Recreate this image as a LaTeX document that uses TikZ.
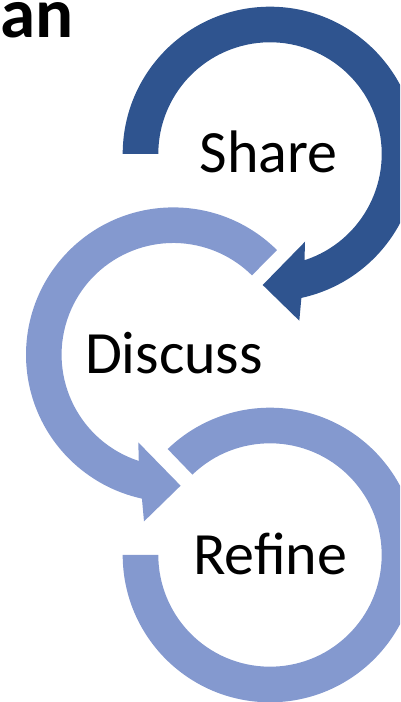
\documentclass[tikz,border=0pt]{standalone}
\usepackage{fontspec}
\setmainfont{Carlito}
\definecolor{darkarrow}{RGB}{47,84,143}
\definecolor{lightarrow}{RGB}{132,153,207}
\begin{document}
\begin{tikzpicture}[x=1pt,y=1pt,
  lbl/.style={inner sep=0pt, anchor=base, font=\fontsize{60}{72}\selectfont},
  titletext/.style={inner sep=0pt, anchor=base east, font=\fontsize{71}{80}\selectfont\bfseries}]
\useasboundingbox (0,0) rectangle (400,702);
\clip (0,0) rectangle (400,702);
\def\ro{147.3}
\def\ri{111.7}
% Share arrow (dark)
\begin{scope}[shift={(270,548)}]
\fill[darkarrow] (180:\ro) arc[start angle=180,end angle=-77.7,radius=\ro]
  -- (29.3,-166.7) -- (-7.3,-131) -- (35,-87.7)
  -- (-72:\ri) arc[start angle=-72,end angle=180,radius=\ri] -- cycle;
\end{scope}
% Discuss arrow (light)
\begin{scope}[shift={(173.3,347.3)}]
\fill[lightarrow] (45.25:\ro) arc[start angle=45.25,end angle=257.7,radius=\ro]
  -- (-29.3,-166.7) -- (7.3,-131) -- (-35,-87.7)
  -- (252:\ri) arc[start angle=252,end angle=45.25,radius=\ri] -- cycle;
\end{scope}
% Refine arc (light)
\begin{scope}[shift={(270,147)}]
\fill[lightarrow] (180:\ro) arc[start angle=180,end angle=494,radius=\ro]
  -- (494:\ri) arc[start angle=494,end angle=180,radius=\ri] -- cycle;
\end{scope}
\node[lbl] (share) at (268.7,529) {Share};
\node[lbl] (discuss) at (174,328) {Discuss};
\node[lbl] (refine) at (270.3,127) {Refine};
\node[titletext] (title) at (74,664) {an};
\end{tikzpicture}
\end{document}
